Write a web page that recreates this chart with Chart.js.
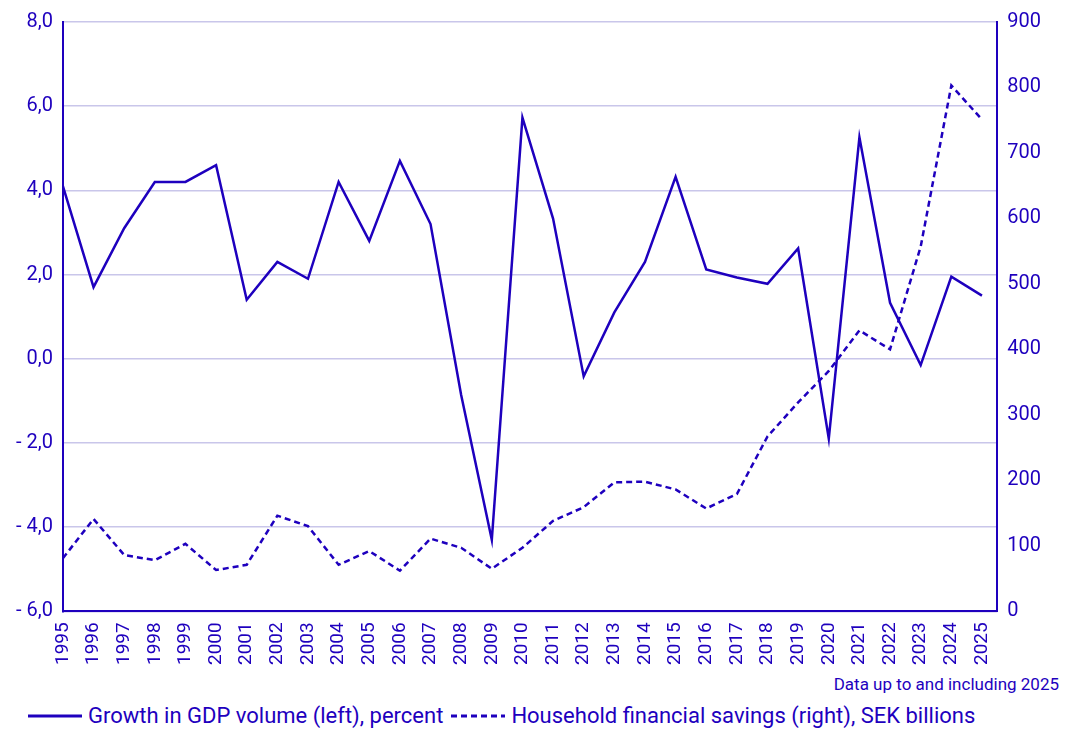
<!DOCTYPE html>
<html>
<head>
<meta charset="utf-8">
<script src="https://cdn.jsdelivr.net/npm/chart.js@4"></script>
<style>
  body { margin: 0; background: #fff; font-family: Roboto, sans-serif; color: #1e00be; }
  #wrap { position: relative; width: 1073px; height: 668px; }
  #note { position: absolute; right: 14px; top: 674px; font-size: 17px; }
  #legend { position: absolute; left: 28px; top: 703px; font-size: 22px; display: flex; gap: 8px; align-items: center; }
  #legend span { display: inline-flex; align-items: center; gap: 6px; }
</style>
</head>
<body>
<div id="wrap"><canvas id="chart" width="1073" height="668"></canvas></div>
<div id="note">Data up to and including 2025</div>
<div id="legend">
  <span><svg width="54" height="4"><line x1="0" y1="2" x2="54" y2="2" stroke="#1e00be" stroke-width="3"/></svg>Growth in GDP volume (left), percent</span>
  <span><svg width="54" height="4"><line x1="0" y1="2" x2="54" y2="2" stroke="#1e00be" stroke-width="3" stroke-dasharray="6,4"/></svg>Household financial savings (right), SEK billions</span>
</div>
<script>
const years = [1995,1996,1997,1998,1999,2000,2001,2002,2003,2004,2005,2006,2007,2008,2009,2010,
  2011,2012,2013,2014,2015,2016,2017,2018,2019,2020,2021,2022,2023,2024,2025];
const gdpGrowth = [4.1, 1.7, 3.1, 4.2, 4.2, 4.6, 1.4, 2.3, 1.9, 4.2, 2.8, 4.7, 3.2, -0.86, -4.3, 5.73,
  3.33, -0.42, 1.1, 2.3, 4.32, 2.12, 1.93, 1.78, 2.62, -1.9, 5.26, 1.33, -0.15, 1.95, 1.5];
const savings = [81, 141, 86, 78, 103, 63, 71, 146, 130, 71, 92, 62, 111, 97, 65, 97,
  138, 159, 197, 198, 186, 157, 179, 267, 319, 367, 429, 400, 557, 803, 751];

const color = '#1e00be';
const grid = '#c9c6ea';

new Chart(document.getElementById('chart').getContext('2d'), {
    type: 'line',
    data: {
        datasets: [{
            label: 'Growth in GDP volume (left), percent',
            data: years.map((y, i) => ({ x: y, y: gdpGrowth[i] })),
            yAxisID: 'y',
            borderColor: color,
            borderWidth: 2.5,
            pointRadius: 0,
            tension: 0
        }, {
            label: 'Household financial savings (right), SEK billions',
            data: years.map((y, i) => ({ x: y, y: savings[i] })),
            yAxisID: 'y1',
            borderColor: color,
            borderWidth: 2.5,
            borderDash: [6, 4],
            pointRadius: 0,
            tension: 0
        }]
    },
    options: {
        responsive: false,
        animation: false,
        layout: { padding: { top: 12, right: 22, left: 6 } },
        plugins: { legend: { display: false }, tooltip: { enabled: false } },
        scales: {
            x: {
                type: 'linear',
                min: 1995, max: 2025.5,
                afterBuildTicks: axis => { axis.ticks = years.map(v => ({ value: v })); },
                grid: { display: false },
                border: { color: color, width: 2 },
                ticks: { color: color, font: { family: 'Roboto', size: 19 }, maxRotation: 90, minRotation: 90, autoSkip: false, callback: v => String(v) }
            },
            y: {
                position: 'left',
                min: -6, max: 8,
                grid: { color: grid, lineWidth: 1.5, drawTicks: false },
                border: { color: color, width: 2 },
                ticks: {
                    stepSize: 2, color: color, padding: 10,
                    font: { family: 'Roboto', size: 20 },
                    callback: v => (v < 0 ? '- ' + Math.abs(v).toFixed(1) : v.toFixed(1)).replace('.', ',')
                }
            },
            y1: {
                position: 'right',
                min: 0, max: 900,
                grid: { display: false, drawTicks: false },
                border: { color: color, width: 2 },
                ticks: { stepSize: 100, color: color, padding: 10, font: { family: 'Roboto', size: 20 } }
            }
        }
    }
});
</script>
</body>
</html>
